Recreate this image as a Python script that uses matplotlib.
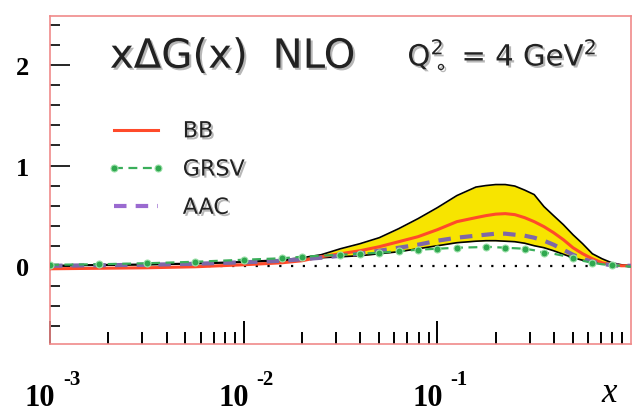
import matplotlib
matplotlib.use("Agg")
import matplotlib.pyplot as plt
import matplotlib.patheffects as pe
import matplotlib.transforms as mtransforms
from matplotlib.lines import Line2D
from matplotlib.ticker import FixedLocator, FixedFormatter, NullFormatter
import numpy as np

# x values (log spaced) and xΔG(x) at Q0^2 = 4 GeV^2
x = [0.001, 0.00178, 0.00316, 0.00562, 0.01, 0.0158, 0.02, 0.0251, 0.0316, 0.0398,
     0.0501, 0.0631, 0.0794, 0.1, 0.126, 0.158, 0.178, 0.2, 0.224, 0.251,
     0.282, 0.316, 0.355, 0.398, 0.447, 0.501, 0.562, 0.631, 0.708, 0.794,
     0.891, 1.0]
bb = [-0.03, -0.025, -0.02, -0.01, 0.01, 0.03, 0.05, 0.09, 0.12, 0.15,
      0.19, 0.24, 0.29, 0.36, 0.44, 0.48, 0.50, 0.515, 0.52, 0.51,
      0.48, 0.44, 0.39, 0.33, 0.26, 0.18, 0.12, 0.07, 0.03, 0.01,
      0.0, 0.0]
grsv = [0.01, 0.015, 0.025, 0.04, 0.06, 0.075, 0.09, 0.10, 0.11, 0.12,
        0.13, 0.145, 0.16, 0.17, 0.18, 0.185, 0.19, 0.185, 0.18, 0.175,
        0.17, 0.155, 0.13, 0.12, 0.10, 0.08, 0.05, 0.03, 0.015, 0.005,
        0.0, -0.01]
aac = [0.0, 0.005, 0.01, 0.02, 0.035, 0.05, 0.065, 0.08, 0.10, 0.12,
       0.15, 0.18, 0.21, 0.25, 0.28, 0.30, 0.31, 0.32, 0.32, 0.31,
       0.30, 0.28, 0.25, 0.21, 0.16, 0.11, 0.07, 0.04, 0.02, 0.005,
       0.0, 0.0]
band_hi = [0.0, 0.01, 0.015, 0.025, 0.04, 0.06, 0.08, 0.11, 0.17, 0.22,
           0.28, 0.37, 0.47, 0.58, 0.70, 0.785, 0.80, 0.81, 0.81, 0.795,
           0.755, 0.71, 0.59, 0.50, 0.41, 0.31, 0.22, 0.12, 0.07, 0.03,
           0.01, 0.0]
band_lo = [0.0, 0.005, 0.01, 0.02, 0.035, 0.05, 0.065, 0.08, 0.09, 0.10,
           0.12, 0.14, 0.17, 0.20, 0.23, 0.245, 0.25, 0.25, 0.245, 0.24,
           0.225, 0.20, 0.18, 0.15, 0.115, 0.08, 0.055, 0.035, 0.02, 0.01,
           0.0, 0.0]
zero_x = [0.005, 0.6]
zero_y = [0.0, 0.0]

xticks_major = [1e-3, 1e-2, 1e-1]
xtick_exponents = ["-3", "-2", "-1"]
yticks_major = [0, 1, 2]
ytick_labels = ["0", "1", "2"]

fig = plt.figure(figsize=(6.33, 4.14), dpi=100)
ax = fig.add_axes([0.079, 0.1667, 0.918, 0.792])

ax.set_xscale("log")
ax.set_xlim(1e-3, 1.0)
ax.set_ylim(-0.78, 2.49)

# uncertainty band
ax.fill_between(x, band_lo, band_hi, color="#f7e400", lw=0, zorder=1)
ax.plot(x, band_hi, color="black", lw=1.2, zorder=2)
ax.plot(x, band_lo, color="black", lw=1.2, zorder=2)

ax.plot(zero_x, zero_y, color="black", lw=1.6, ls=(0, (1, 4.3)), zorder=2)

ax.plot(x, bb, color="#ff4a2a", lw=2.2, zorder=4)
ax.plot(x, aac, color="#7e67a8", lw=3.0, ls=(0, (3, 2.2)), zorder=5)
ax.plot(x, grsv, color="#3aae5a", lw=1.6, ls=(0, (4, 2.5)),
        marker="o", ms=5, mfc="#2fa84f", mec="#9be0a8", mew=0.8,
        markevery=0.0325, zorder=6)

# axes frame
for s in ax.spines.values():
    s.set_color("#f08a8a")
    s.set_linewidth(1.2)

ax.xaxis.set_major_locator(FixedLocator(xticks_major))
ax.xaxis.set_major_formatter(NullFormatter())
ax.xaxis.set_minor_formatter(NullFormatter())
ax.yaxis.set_major_locator(FixedLocator(yticks_major))
ax.yaxis.set_major_formatter(FixedFormatter(ytick_labels))
ax.yaxis.set_minor_locator(FixedLocator(np.arange(-0.6, 2.5, 0.2)))

ax.tick_params(axis="x", which="major", direction="in", length=16.5, width=1.4, color="black")
ax.tick_params(axis="x", which="minor", direction="in", length=8.5, width=1.4, color="black")
ax.tick_params(axis="y", which="major", direction="in", length=14.5, width=1.2,
               color="black", pad=15, labelsize=19)
ax.tick_params(axis="y", which="minor", direction="in", length=7.2, width=1.2, color="black")
for lab in ax.get_yticklabels():
    lab.set_fontfamily("Liberation Serif")
    lab.set_fontweight("bold")

# decade labels: "10" with a raised exponent set off to the right
xtrans = ax.get_xaxis_transform()
for xt, ex in zip(xticks_major, xtick_exponents):
    base_off = mtransforms.ScaledTranslation(-10 / 100, 0, fig.dpi_scale_trans)
    exp_off = mtransforms.ScaledTranslation(13 / 100, 0, fig.dpi_scale_trans)
    ax.text(xt, -0.186, "10", transform=xtrans + base_off, ha="center", va="baseline",
            fontsize=22, family="Liberation Serif", weight="bold", clip_on=False)
    ax.text(xt, -0.121, ex, transform=xtrans + exp_off, ha="left", va="baseline",
            fontsize=15, family="Liberation Serif", weight="bold", clip_on=False)

shadow = [pe.SimplePatchShadow(offset=(1.5, -1.5), shadow_rgbFace="#888888", alpha=0.6), pe.Normal()]
ax.text(0.103, 0.876, r"x$\Delta$G(x)", transform=ax.transAxes, fontsize=29,
        family="DejaVu Sans", color="#222222", va="center", ha="left", path_effects=shadow)
ax.text(0.383, 0.876, "NLO", transform=ax.transAxes, fontsize=29,
        family="DejaVu Sans", color="#222222", va="center", ha="left", path_effects=shadow)
ax.text(0.615, 0.876, r"Q$_\circ^2$ = 4 GeV$^2$", transform=ax.transAxes, fontsize=21,
        family="DejaVu Sans", color="#222222", va="center", ha="left", path_effects=shadow)

handles = [Line2D([], [], color="#ff4a2a", lw=2.2),
           Line2D([], [], color="#3aae5a", lw=1.6, ls=(0, (4, 2.5)), marker="o", ms=5,
                  mfc="#2fa84f", mec="#9be0a8", mew=0.8),
           Line2D([], [], color="#9a6ad0", lw=3.0, ls=(0, (3, 2.2)))]
leg = ax.legend(handles, ["BB", "GRSV", "AAC"], loc="upper left", numpoints=2,
                bbox_to_anchor=(0.064, 0.74), frameon=False,
                handlelength=2.6, handletextpad=0.8, labelspacing=0.82,
                prop={"family": "DejaVu Sans", "size": 16})
for t in leg.get_texts():
    t.set_path_effects(shadow)
    t.set_color("#222222")

fig.text(0.962, 0.05, "x", fontsize=25, family="Liberation Serif", style="italic",
         ha="center", va="center")

fig.savefig("out.png", dpi=100)
